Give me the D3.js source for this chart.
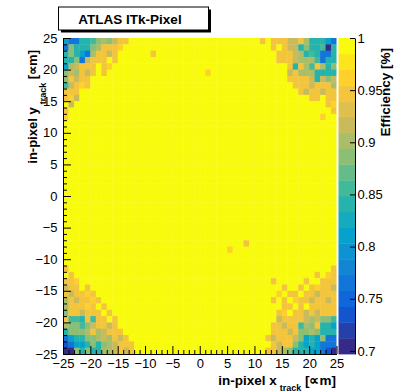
<!DOCTYPE html>
<html>
<head>
<meta charset="utf-8">
<script src="https://cdn.jsdelivr.net/npm/d3@7"></script>
<style>
  body { margin: 0; background: #fff; }
  svg { display: block; font-family: "Liberation Sans", Arial, Helvetica, sans-serif; }
</style>
</head>
<body>
<svg id="chart" width="407" height="392"></svg>
<script>
// axis ticks
const xTicks = [-25, -20, -15, -10, -5, 0, 5, 10, 15, 20, 25];
const yTicks = [-25, -20, -15, -10, -5, 0, 5, 10, 15, 20, 25];
const zTicks = [0.7, 0.75, 0.8, 0.85, 0.9, 0.95, 1];

// efficiency levels, one character per 1x1 um bin
const levelCodes  = [".",   "y",   "g",   "t",   "k",   "n",   "e",   "c",  "b",  "B",   "D",   "X"];
const levelValues = [0.995, 0.962, 0.947, 0.917, 0.901, 0.886, 0.856, 0.84, 0.81, 0.765, 0.735, 0.704];

// rows from y = +25 (top) to y = -25 (bottom), columns x = -25 .. +25
const effRows = [
  "bBBccenknt gg........ .......... ......g.gg gttgkcccbB",
  "Bncccnkggg y......... .......... ........g. gttcncceXc",
  "cncbBkggtg ......g... .......... .........g ggtkcecBBc",
  "ccnBtggg.g .......... .......... .........g ggtkkkeBcc",
  "bktggg.gy. .......... .......... .......... .gcgkegkcn",
  "ntkgtg.g.. .......... ......y... .......... .tgkkkcccc",
  "ngtgg..... .......... .......... .......... .ggggtctnt",
  "etgyg..... .......... .......... .......... ..gggtgggk",
  "ggg....... .......... .......... .......... ...gtggtgg",
  "gyt....... .......... .......... .......... .....gg.gg",
  ".t........ .......... .......... .......... ........gy",
  "g......... .......... .......... .......... .........g",
  "y......... .......... .......... .......... .......y..",
  ".......... .......... .......... .......... ..........",
  ".......... .......... .......... .......... ..........",
  ".......... .......... .......... .......... ..........",
  ".......... .......... .......... .......... ..........",
  ".......... .......... .......... .......... ..........",
  ".......... .......... .......... .......... ..........",
  ".......... .......... .......... .......... ..........",
  ".......... .......... .......... .......... ..........",
  ".......... .......... .......... .......... ..........",
  ".......... .......... .......... .......... ..........",
  ".......... .......... .......... .......... ..........",
  ".......... .......... .......... .......... ..........",
  ".......... .......... .......... .......... ..........",
  ".......... .......... .......... .......... ..........",
  ".......... .......... .......... .......... ..........",
  ".......... .......... .......... .......... ..........",
  ".......... .......... .......... .......... ..........",
  ".......... .......... .......... .......... ..........",
  ".......... .......... .......... .......... ..........",
  ".......... .......... .......... ...g...... ..........",
  ".......... .......... .......... y......... ..........",
  ".......... .......... .......... .......... ..........",
  ".......... .......... .......... .......... ..........",
  "g......... .......... .......... .......... .........g",
  ".g........ .......... .......... .......... ......g.yg",
  "ggy....... .......... .......... ........g. ....g..ggg",
  "tgg.g..... .......... .......... .......... g..g.gyggt",
  "gtggyg.... .......... .......... .........y .gg.ggtggg",
  "kgtggyg... .......... .......... ........g. g.yggtggtg",
  "kgggyg.g.. .......... .......... .......... gg.g.ggggg",
  "nggtggg.g. .......... .......... .........g y.ggtgtggg",
  "geecgegg.g .......... .......... .........t ggggtktnne",
  "knnentggtg .......... .......... ........gg tggekngccb",
  "cnnnkgktgg g......... .......... ........gg gtgnnknccc",
  "Bbccnnktkg tg........ .......... .......gtg ggtnbcbnBB",
  "DBbbcncnkt ggg....... .......... ........gt ggncbcbBBB",
  "XXncncckkt gtg....... .......... .......ggt kncccbbBDX"
];

// ROOT kBird palette
const birdStops = [0, 0.125, 0.25, 0.375, 0.5, 0.625, 0.75, 0.875, 1];
const birdRed   = [0.2082, 0.0592, 0.0780, 0.0232, 0.1802, 0.5301, 0.8186, 0.9956, 0.9764];
const birdGreen = [0.1664, 0.3599, 0.5041, 0.6419, 0.7178, 0.7492, 0.7328, 0.7862, 0.9832];
const birdBlue  = [0.5293, 0.8684, 0.8385, 0.7914, 0.6425, 0.4662, 0.3499, 0.1968, 0.0539];

const zMin = 0.697, zMax = 1.0, nContours = 20;

const bird = d3.scaleLinear()
  .domain(birdStops)
  .range(birdStops.map((s, i) => d3.rgb(birdRed[i] * 255, birdGreen[i] * 255, birdBlue[i] * 255).toString()));

const zStep = (zMax - zMin) / nContours;
function band(v) {
  return Math.max(0, Math.min(nContours - 1, Math.floor((v - zMin) / zStep)));
}
function bandColor(k) { return bird(k / (nContours - 1)); }

const svg = d3.select("#chart");

const x = d3.scaleLinear().domain([-25, 25]).range([63, 336.5]);
const y = d3.scaleLinear().domain([-25, 25]).range([354, 38]);
const z = d3.scaleLinear().domain([zMin, zMax]).range([354, 38]);

// bins
const cells = [];
effRows.forEach((row, r) => {
  row.replace(/ /g, "").split("").forEach((ch, c) => {
    cells.push({ c: c, r: r, v: levelValues[levelCodes.indexOf(ch)] });
  });
});

svg.append("g")
  .selectAll("rect")
  .data(cells)
  .join("rect")
    .attr("x", d => x(d.c - 25))
    .attr("y", d => y(25 - d.r))
    .attr("width", d => x(d.c - 24) - x(d.c - 25) + (d.c < 49 ? 0.4 : 0))
    .attr("height", d => y(24 - d.r) - y(25 - d.r) + (d.r < 49 ? 0.4 : 0))
    .attr("fill", d => bandColor(band(d.v)));

// colour bar
svg.append("g")
  .selectAll("rect")
  .data(d3.range(nContours))
  .join("rect")
    .attr("x", 338.5)
    .attr("width", 16.5)
    .attr("y", k => z(zMin + (k + 1) * zStep))
    .attr("height", k => z(zMin + k * zStep) - z(zMin + (k + 1) * zStep) + 0.4)
    .attr("fill", k => bandColor(k));

const fmtInt = d3.format("d");
const minorTicks = d3.range(-25, 26).filter(v => v % 5 !== 0);

function styleAxis(g) {
  g.attr("font-size", 13).attr("font-family", "Liberation Sans, Arial, Helvetica, sans-serif");
  g.selectAll("path.domain").attr("stroke", "#000");
  g.selectAll(".tick line").attr("stroke", "#000");
  g.selectAll(".tick text").attr("fill", "#000");
}

// x axis
svg.append("g")
  .attr("transform", "translate(0,354)")
  .call(d3.axisBottom(x).tickValues(minorTicks).tickSize(-4).tickSizeOuter(0).tickFormat(""))
  .call(g => g.select(".domain").remove());
svg.append("g")
  .attr("transform", "translate(0,354)")
  .call(d3.axisBottom(x).tickValues(xTicks).tickSize(-8).tickSizeOuter(0).tickPadding(5).tickFormat(fmtInt))
  .call(styleAxis);

// y axis
svg.append("g")
  .attr("transform", "translate(63,0)")
  .call(d3.axisLeft(y).tickValues(minorTicks).tickSize(-4).tickSizeOuter(0).tickFormat(""))
  .call(g => g.select(".domain").remove());
svg.append("g")
  .attr("transform", "translate(63,0)")
  .call(d3.axisLeft(y).tickValues(yTicks).tickSize(-8).tickSizeOuter(0).tickPadding(5.5).tickFormat(fmtInt))
  .call(styleAxis);

// z axis
svg.append("g")
  .attr("transform", "translate(355,0)")
  .call(d3.axisRight(z).tickValues(zTicks).tickSize(-5).tickSizeOuter(0).tickPadding(2.5).tickFormat(d => String(d)))
  .call(styleAxis);

// axis titles
const xTitle = svg.append("text")
  .attr("x", 336).attr("y", 385)
  .attr("text-anchor", "end")
  .attr("font-weight", "bold").attr("font-size", 13.5);
xTitle.append("tspan").text("in-pixel x");
xTitle.append("tspan").attr("font-size", 9).attr("dx", 3).attr("dy", 6).text("track");
xTitle.append("tspan").attr("dy", -6).text(" [∝m]");

const yTitle = svg.append("text")
  .attr("transform", "translate(37,50) rotate(-90)")
  .attr("text-anchor", "end")
  .attr("font-weight", "bold").attr("font-size", 13);
yTitle.append("tspan").text("in-pixel y");
yTitle.append("tspan").attr("font-size", 9).attr("dx", 3).attr("dy", 9).text("track");
yTitle.append("tspan").attr("dy", -9).text(" [∝m]");

svg.append("text")
  .attr("transform", "translate(389.5,48) rotate(-90)")
  .attr("text-anchor", "end")
  .attr("font-weight", "bold").attr("font-size", 13.5)
  .text("Efficiency [%]");

// ATLAS label box with shadow
svg.append("rect").attr("x", 61).attr("y", 9.5).attr("width", 150).attr("height", 23).attr("fill", "#000");
svg.append("rect").attr("x", 58.5).attr("y", 7).attr("width", 150).attr("height", 23)
  .attr("fill", "#fff").attr("stroke", "#000").attr("stroke-width", 1);
svg.append("text")
  .attr("x", 130).attr("y", 23.5)
  .attr("text-anchor", "middle")
  .attr("font-weight", "bold").attr("font-size", 13.5)
  .text("ATLAS ITk-Pixel");
</script>
</body>
</html>
